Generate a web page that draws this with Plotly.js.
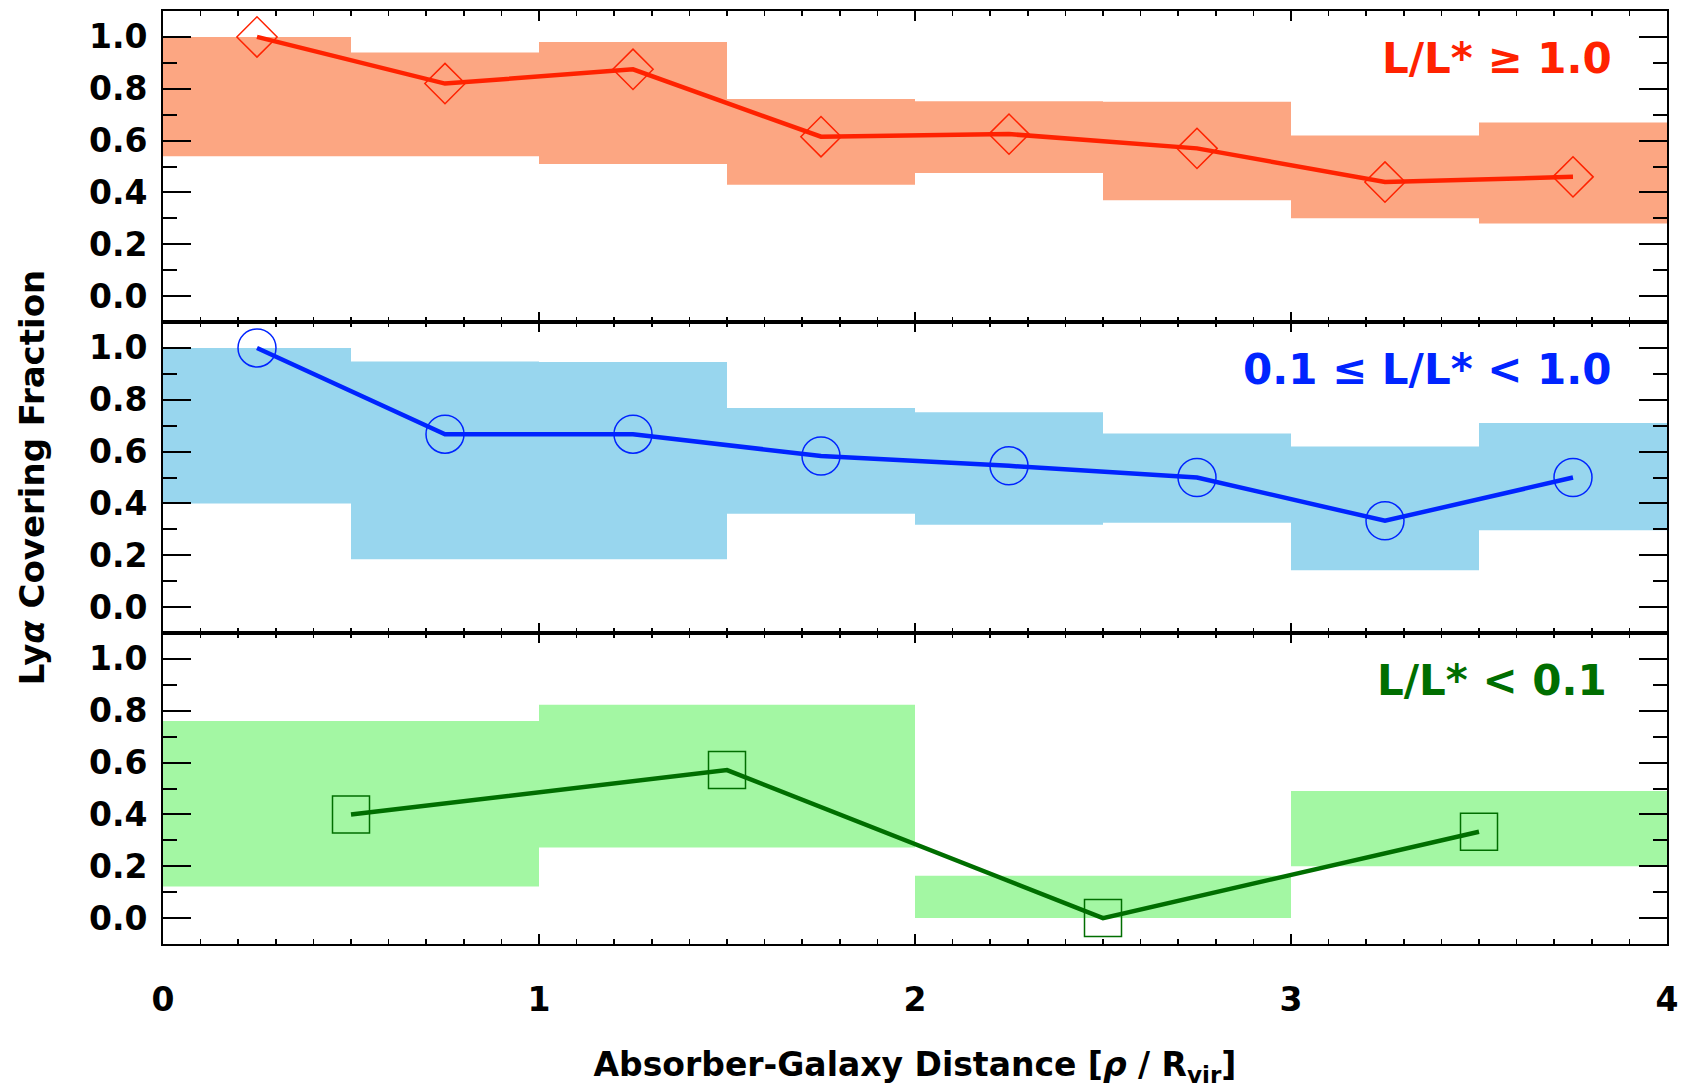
<!DOCTYPE html>
<html>
<head>
<meta charset="utf-8">
<script src="https://cdn.plot.ly/plotly-3.0.1.min.js"></script>
<style>html,body{margin:0;padding:0;background:#fff;}</style>
</head>
<body>
<div id="chart" style="width:1686px;height:1088px;"></div>
<script>
// ---- Data ----
// Bright galaxies: L/L* >= 1.0 (bins of 0.5 R_vir)
const xHigh   = [0.25, 0.75, 1.25, 1.75, 2.25, 2.75, 3.25, 3.75];
const fHigh   = [1.00, 0.82, 0.875, 0.615, 0.625, 0.57, 0.44, 0.46];
const loHigh  = [0.54, 0.54, 0.51, 0.43, 0.475, 0.37, 0.30, 0.28];
const hiHigh  = [1.00, 0.94, 0.98, 0.76, 0.752, 0.75, 0.62, 0.67];
const binHigh = 0.5;

// Intermediate: 0.1 <= L/L* < 1.0 (bins of 0.5 R_vir)
const xMid    = [0.25, 0.75, 1.25, 1.75, 2.25, 2.75, 3.25, 3.75];
const fMid    = [1.00, 0.667, 0.667, 0.583, 0.545, 0.50, 0.333, 0.50];
const loMid   = [0.40, 0.185, 0.185, 0.36, 0.318, 0.325, 0.142, 0.296];
const hiMid   = [1.00, 0.948, 0.946, 0.768, 0.752, 0.67, 0.62, 0.71];
const binMid  = 0.5;

// Faint: L/L* < 0.1 (bins of 1 R_vir)
const xLow    = [0.5, 1.5, 2.5, 3.5];
const fLow    = [0.40, 0.571, 0.0, 0.333];
const loLow   = [0.122, 0.272, 0.0, 0.20];
const hiLow   = [0.76, 0.823, 0.163, 0.49];
const binLow  = 1.0;

const labels = ["L/L* \u2265 1.0", "0.1 \u2264 L/L* < 1.0", "L/L* < 0.1"];
const xTickVals = [0, 1, 2, 3, 4];
const yTickVals = [0.0, 0.2, 0.4, 0.6, 0.8, 1.0];

// ---- Styles ----
const FONT = "DejaVu Sans";
const panels = [
  {x: xHigh, f: fHigh, lo: loHigh, hi: hiHigh, w: binHigh, band: "rgb(252,166,130)", line: "rgb(255,34,0)", sym: "diamond-open", size: 31, ax: "", label: labels[0], lx: 3.86},
  {x: xMid,  f: fMid,  lo: loMid,  hi: hiMid,  w: binMid,  band: "rgb(152,214,238)", line: "rgb(0,36,255)", sym: "circle-open",  size: 38, ax: "2", label: labels[1], lx: 3.86},
  {x: xLow,  f: fLow,  lo: loLow,  hi: hiLow,  w: binLow,  band: "rgb(163,247,163)", line: "rgb(0,110,0)", sym: "square-open",  size: 37, ax: "3", label: labels[2], lx: 3.845}
];

const traces = [];
const annotations = [];
panels.forEach(p => {
  const xa = "x" + p.ax, ya = "y" + p.ax;
  traces.push({
    type: "bar", x: p.x, base: p.lo, y: p.hi.map((h, i) => h - p.lo[i]),
    width: p.x.map(() => p.w), xaxis: xa, yaxis: ya,
    marker: {color: p.band, line: {width: 0}}, hoverinfo: "skip", showlegend: false
  });
  traces.push({
    type: "scatter", mode: "lines", x: p.x, y: p.f, xaxis: xa, yaxis: ya,
    line: {color: p.line, width: 4.5}, showlegend: false
  });
  traces.push({
    type: "scatter", mode: "markers", x: p.x, y: p.f, xaxis: xa, yaxis: ya,
    marker: {symbol: p.sym, size: p.size, color: p.line, line: {width: 1.5, color: p.line}},
    showlegend: false
  });
  annotations.push({
    xref: xa, yref: ya, x: p.lx, y: 0.915, xanchor: "right", yanchor: "middle",
    text: p.label, showarrow: false, font: {family: FONT, size: 42, weight: "bold", color: p.line}
  });
});

const tickFont = {family: FONT, size: 33, weight: "bold", color: "black"};
const titleFont = {family: FONT, size: 34, weight: "bold", color: "black"};

function xAxis(domainAnchor, showLabels) {
  return {
    anchor: domainAnchor, range: [0, 4], tickvals: xTickVals, ticktext: xTickVals.map(String),
    ticks: "inside", ticklen: 10, tickwidth: 2, tickcolor: "black",
    minor: {dtick: 0.1, tick0: 0, ticks: "inside", ticklen: 5, tickwidth: 1.5, tickcolor: "black"},
    showline: true, linewidth: 2, linecolor: "black", mirror: "ticks",
    showgrid: false, zeroline: false, showticklabels: showLabels,
    ticklabelstandoff: 25,
    tickfont: tickFont
  };
}
function yAxis(domain, anchor) {
  return {
    anchor: anchor, domain: domain, range: [-0.1, 1.1], tickvals: yTickVals,
    ticktext: yTickVals.map(v => v.toFixed(1)),
    ticks: "inside", ticklen: 28, tickwidth: 2, tickcolor: "black",
    minor: {dtick: 0.1, tick0: 0, ticks: "inside", ticklen: 14, tickwidth: 2, tickcolor: "black"},
    showline: true, linewidth: 2, linecolor: "black", mirror: "ticks",
    showgrid: false, zeroline: false, ticklabelstandoff: 7,
    tickfont: tickFont
  };
}

const layout = {
  width: 1686, height: 1088,
  margin: {l: 163, r: 19, t: 11, b: 144},
  paper_bgcolor: "white", plot_bgcolor: "white",
  showlegend: false, barmode: "overlay",
  font: {family: FONT, color: "black"},
  xaxis:  xAxis("y", false),
  xaxis2: xAxis("y2", false),
  xaxis3: Object.assign(xAxis("y3", true), {
    title: {text: "Absorber-Galaxy Distance [<i>\u03C1</i> / R<sub>vir</sub>]", font: Object.assign({}, titleFont, {size: 33}), standoff: 35}
  }),
  yaxis:  yAxis([2/3, 1], "x"),
  yaxis2: Object.assign(yAxis([1/3, 2/3], "x2"), {
    title: {text: "Ly<i>\u03B1</i> Covering Fraction", font: titleFont, standoff: 34}
  }),
  yaxis3: yAxis([0, 1/3], "x3"),
  annotations: annotations
};

Plotly.newPlot("chart", traces, layout, {displayModeBar: false, staticPlot: true});
</script>
</body>
</html>
